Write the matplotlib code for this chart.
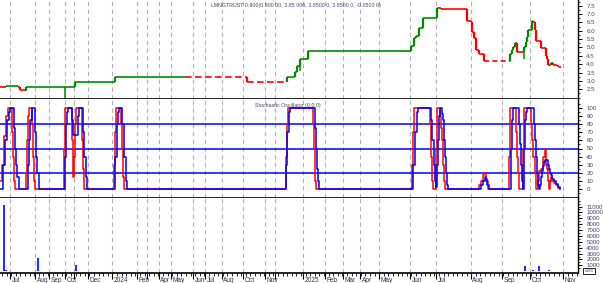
import numpy as np
import matplotlib.pyplot as plt
import matplotlib.transforms as mtransforms

plt.rcParams['font.family'] = ['Liberation Sans', 'DejaVu Sans']

# ---- data (x = bar position on the chart's time axis) ----
month_pos = [10.3, 35, 49.3, 65.3, 74, 88.3, 111.7, 136.7, 146.7, 158.7, 171, 193.3, 205,
             221.7, 243.3, 265, 275, 303, 325.3, 343.3, 360, 379.3, 410, 436, 470.7,
             501.7, 530, 563.3]
month_lbl = ['Jul', 'Aug', 'Sep', 'Oct', '', 'Dec', '2024', 'Feb', '', 'Apr', 'May', 'Jun', 'Jul',
             'Aug', 'Oct', 'Nov', '', '2025', 'Feb', 'Mar', 'Apr', 'May', 'Jun', 'Jul', 'Aug',
             'Sep', 'Oct', 'Nov']

price_x = [0, 6, 18, 20, 26, 75, 115, 185, 247, 287, 292, 295, 297, 300, 308,
           411, 414, 416, 419, 423, 437, 441, 467, 471, 472, 474, 476, 479, 484,
           510, 512, 513, 515, 517, 524, 526, 527, 528, 532,
           533, 535, 536, 541, 546, 547, 548, 551, 553, 557, 559]
price = [2.62, 2.68, 2.64, 2.46, 2.66, 2.92, 3.22, 3.22, 2.94, 3.22, 3.25, 3.55, 3.9, 4.33, 4.77,
         5.1, 5.55, 5.7, 6.15, 6.75, 7.35, 7.28, 6.6, 6.55, 5.95, 5.55, 4.85, 4.62, 4.2,
         4.6, 4.85, 5.05, 5.25, 4.75, 5.0, 5.35, 5.65, 6.02, 6.6,
         6.55, 6.05, 5.38, 4.97, 4.5, 4.3, 3.97, 4.08, 3.97, 3.88, 3.84]
price_up = [False, True, False, False, True, True, True, False, False, True, True, True, True, True, True,
            True, True, True, True, True, True, False, False, False, False, False, False, False, False,
            True, True, True, True, False, True, True, True, True, True,
            False, False, False, False, False, False, False, True, False, False, False]
price_end = 561

wick_x = [26, 65, 300, 524]
wick_low = [2.42, 0.9, 3.6, 4.3]
wick_high = [2.66, 2.66, 4.33, 5.0]

k_x = [0, 2, 4, 6, 8, 12, 13, 14, 15,
       26, 27, 28, 29, 32, 33, 34, 35,
       64, 65, 72, 73, 74, 75, 76, 82, 83, 84,
       114, 115, 116, 121, 122, 123, 124,
       286, 287, 288, 313, 314, 315, 316,
       412, 413, 414, 430, 431, 432, 433, 436, 437, 440, 441, 442, 443, 444, 445,
       479, 481, 483, 484, 486, 488,
       509, 510, 516, 517, 518, 519, 523, 524, 531, 532, 533, 535, 536,
       538, 539, 541, 543, 545, 546, 547, 548, 549, 550, 551, 552, 554, 556, 558, 560]
k_val = [10, 30, 65, 90, 100, 70, 40, 10, 0,
         20, 60, 90, 100, 80, 40, 10, 0,
         50, 100, 60, 15, 40, 80, 100, 60, 25, 0,
         30, 70, 100, 80, 50, 15, 0,
         40, 80, 100, 80, 50, 10, 0,
         30, 70, 100, 80, 40, 10, 0, 50, 100, 90, 75, 60, 30, 10, 0,
         5, 10, 18, 20, 10, 0,
         40, 100, 70, 40, 20, 0, 50, 100, 80, 60, 40, 20, 0,
         10, 22, 25, 40, 50, 30, 25, 10, 0, 10, 15, 10, 8, 5, 2, 0]

d_x = [0, 2, 3, 5, 7, 9, 10, 13, 14, 15, 16, 17, 19,
       27, 28, 29, 30, 32, 34, 35, 36, 37, 39,
       64, 65, 66, 67, 68, 71, 72, 73, 77, 78, 79, 82, 83, 84, 86, 87,
       114, 115, 117, 118, 119, 121, 122, 124, 126, 127,
       285, 286, 287, 289, 290, 314, 315, 316, 317, 318, 319,
       412, 413, 415, 417, 418, 430, 431, 432, 434, 435, 436, 437, 438, 439, 440, 441,
       442, 443, 444, 445, 446, 447, 448,
       479, 481, 483, 485, 486, 487, 489,
       510, 511, 512, 513, 518, 519, 520, 521, 522, 523, 524, 525, 526, 527, 533,
       534, 535, 536, 537, 538, 539,
       540, 541, 542, 543, 544, 545, 547, 548, 549, 550, 551, 552, 554, 556, 558, 560]
d_val = [0, 0, 30, 60, 85, 95, 100, 100, 75, 50, 30, 15, 0,
         0, 30, 60, 85, 100, 100, 70, 40, 20, 0,
         0, 40, 80, 95, 100, 100, 85, 66, 66, 90, 100, 100, 70, 40, 15, 0,
         0, 40, 80, 95, 100, 100, 80, 40, 10, 0,
         0, 30, 70, 95, 100, 100, 75, 50, 25, 10, 0,
         0, 30, 70, 95, 100, 100, 85, 60, 30, 10, 3, 30, 60, 90, 100, 100,
         92, 85, 60, 40, 20, 5, 0,
         0, 5, 10, 15, 12, 5, 0,
         0, 50, 85, 100, 100, 80, 55, 30, 10, 0, 50, 85, 95, 100, 100,
         80, 60, 40, 20, 5, 0,
         5, 15, 22, 28, 33, 36, 36, 30, 25, 20, 17, 13, 10, 7, 3, 0]

vol_x = [4, 6, 38, 76, 525, 533, 539, 549]
vol = [11300, 250, 2300, 1000, 950, 200, 950, 150]

# ---- figure ----
GREEN = '#008a00'
RED = '#ff0000'
BLUE = '#0000ff'
TXT = '#44446a'
GRID = '#b4b4b4'

fig = plt.figure(figsize=(6.03, 2.83), dpi=100)
W = 578 / 603
ax1 = fig.add_axes([0, 1 - 99 / 283, W, 99 / 283])
ax2 = fig.add_axes([0, 1 - 198 / 283, W, 99 / 283], sharex=ax1)
ax3 = fig.add_axes([0, 1 - 272.5 / 283, W, 74.5 / 283], sharex=ax1)

# price steps
dash_styles = {185: (0, (4, 2)), 247: (0, (4, 2)), 484: (0, (3, 2)), 292: (0, (2, 1))}
for i in range(len(price_x)):
    c = GREEN if price_up[i] else RED
    x0 = price_x[i]
    x1 = price_x[i + 1] if i + 1 < len(price_x) else price_end
    ax1.plot([x0, x1], [price[i], price[i]], color=c, lw=1.2,
             linestyle=dash_styles.get(x0, '-'), solid_capstyle='butt')
    if i > 0:
        ax1.plot([x0, x0], [price[i - 1], price[i]], color=c, lw=1.6, solid_capstyle='butt')
ax1.vlines(wick_x, wick_low, wick_high, color=GREEN, lw=1.1)
ax1.set_ylim(1.92, 7.84)
ax1.set_yticks(np.arange(2.5, 7.51, 0.5))
ax1.set_yticks(np.arange(2.0, 7.8, 0.25), minor=True)
ax1.set_yticklabels(['%.1f' % v for v in np.arange(2.5, 7.51, 0.5)])

# stochastic
for lvl in [20, 50, 80]:
    ax2.axhline(lvl, color=BLUE, lw=1.1)
ax2.plot(k_x, k_val, color=RED, lw=1.1, drawstyle='steps-post')
ax2.plot(d_x, d_val, color=BLUE, lw=1.1, drawstyle='steps-post')
ax2.set_ylim(-10.7, 110.7)
ax2.set_yticks(range(0, 101, 10))
ax2.set_yticks(range(-5, 106, 5), minor=True)

# volume
ax3.vlines(vol_x, 0, vol, color=BLUE, lw=1.2)
ax3.set_ylim(-217, 12450)
ax3.set_yticks(range(1000, 11001, 1000))
ax3.set_yticks(range(500, 12001, 500), minor=True)

for ax in (ax1, ax2, ax3):
    ax.set_xlim(0, 578)
    ax.yaxis.tick_right()
    ax.spines['top'].set_visible(False)
    ax.spines['left'].set_visible(False)
    ax.spines['right'].set_linewidth(1.0)
    ax.spines['bottom'].set_linewidth(1.2)
    ax.tick_params(axis='y', which='major', direction='out', length=3, width=0.7,
                   pad=3, labelsize=4.4, labelcolor=TXT)
    ax.tick_params(axis='y', which='minor', direction='out', length=1.5, width=0.6)
    ax.grid(axis='x', which='major', color=GRID, linestyle=(0, (4, 3)), lw=0.8)
    ax.set_facecolor('white')

ax3.set_xticks(month_pos)
ax3.set_xticklabels(month_lbl)
ax3.set_xticks(np.arange(2, 578, 4.6), minor=True)
ax3.tick_params(axis='x', which='major', direction='out', length=4, width=0.8,
                pad=-1, labelsize=4.7, labelcolor='#333355')
ax3.tick_params(axis='x', which='minor', direction='out', length=2, width=0.6)
shift = mtransforms.ScaledTranslation(1.5 / 100, 0, fig.dpi_scale_trans)
for lbl in ax3.get_xticklabels():
    lbl.set_horizontalalignment('left')
    lbl.set_transform(lbl.get_transform() + shift)
for ax in (ax1, ax2):
    ax.tick_params(axis='x', which='both', bottom=False, labelbottom=False)

fig.text(211 / 603, 1 - 5 / 283,
         'LMNGTRUST 0.900(0.900 00, 3.85 000, 3.8500 0, 3.8500 0, -0.0500 0)',
         fontsize=3.8, color=TXT, va='center', ha='left')
fig.text(255 / 603, 1 - 105 / 283, 'Stochastic Oscillator (0,0,0)',
         fontsize=3.8, color=TXT, va='center', ha='left')
fig.text(589 / 603, 1 - 271 / 283, 'x100', fontsize=3, color=TXT, va='center', ha='center',
         bbox=dict(facecolor='white', edgecolor='black', lw=0.6, pad=0.8))

fig.savefig('out.png', dpi=100)
